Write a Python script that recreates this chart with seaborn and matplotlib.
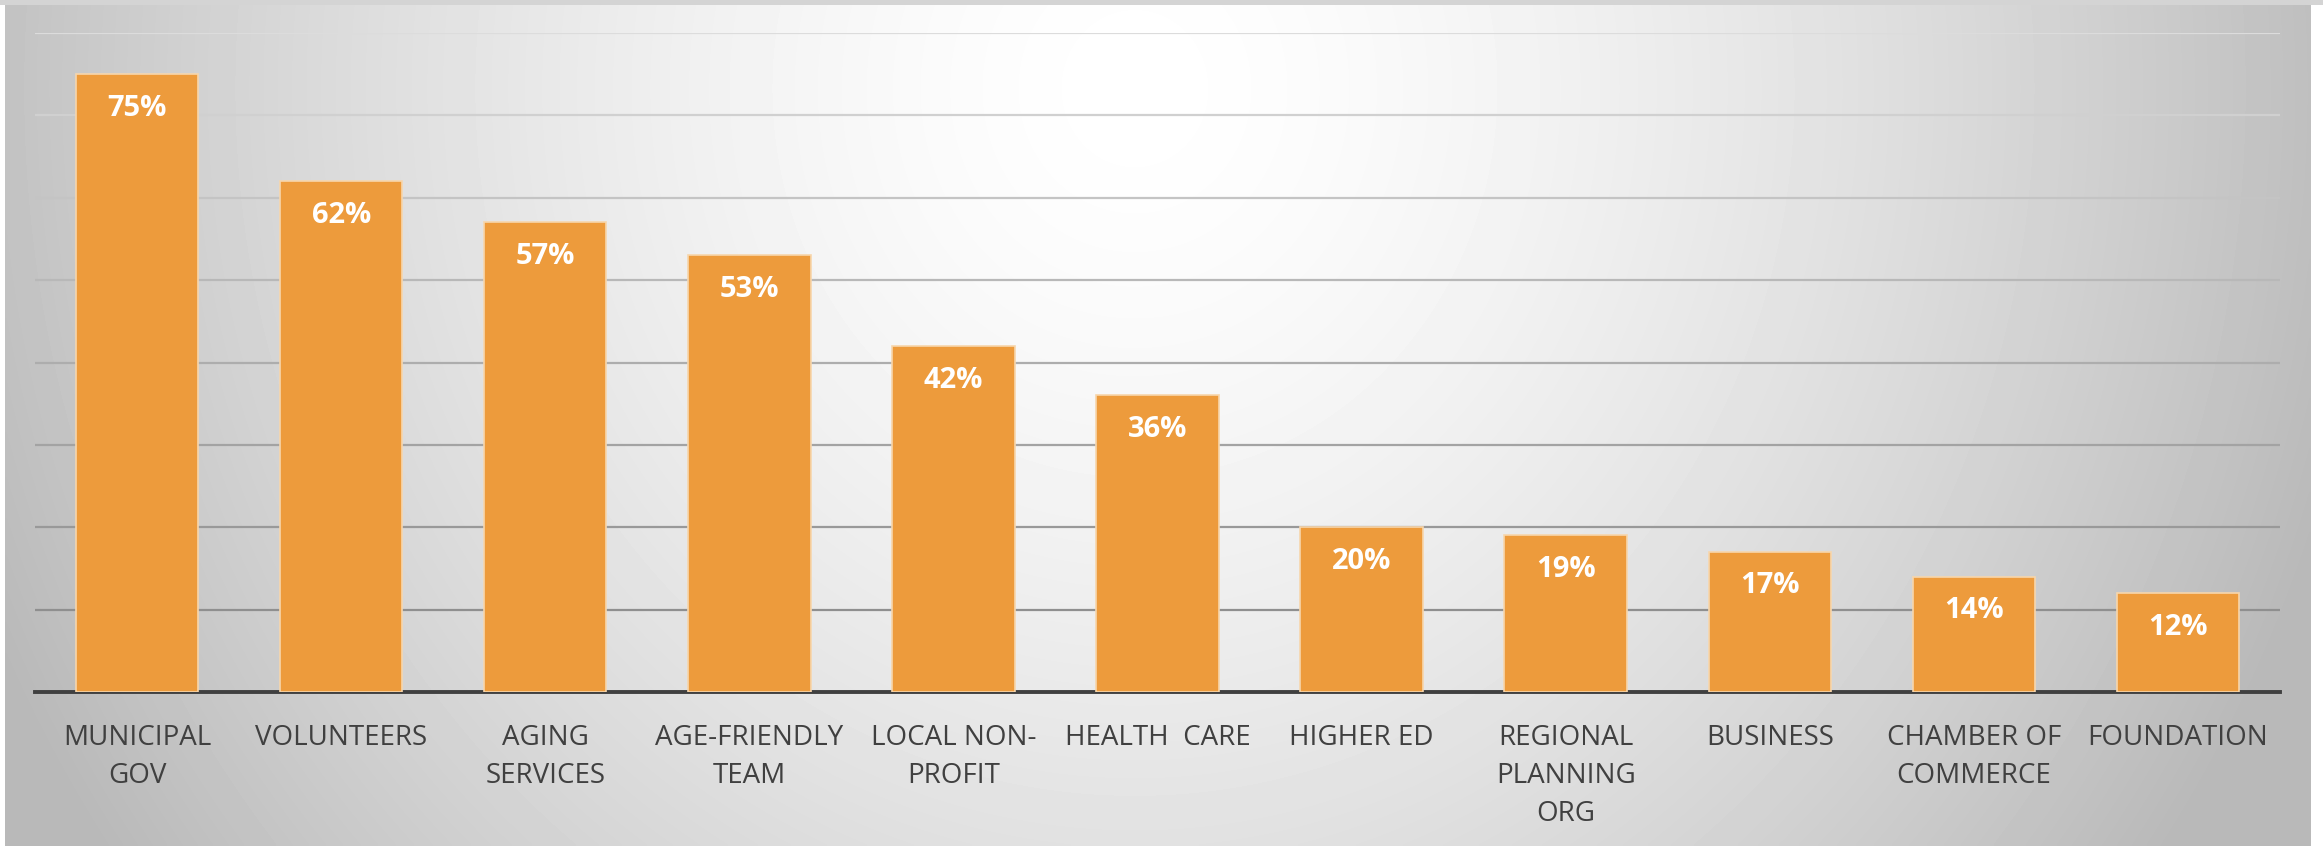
import numpy as np
import pandas as pd
import matplotlib
matplotlib.use("Agg")
import matplotlib.pyplot as plt
from matplotlib.patches import Rectangle
import seaborn as sns

# data
categories = ["MUNICIPAL\nGOV", "VOLUNTEERS", "AGING\nSERVICES", "AGE-FRIENDLY\nTEAM",
              "LOCAL NON-\nPROFIT", "HEALTH  CARE", "HIGHER ED", "REGIONAL\nPLANNING\nORG",
              "BUSINESS", "CHAMBER OF\nCOMMERCE", "FOUNDATION"]
shares = [0.75, 0.62, 0.57, 0.53, 0.42, 0.36, 0.20, 0.19, 0.17, 0.14, 0.12]

df = pd.DataFrame({"partner": categories, "share": shares})

sns.set_style("white")
plt.rcParams["font.family"] = ["Open Sans", "DejaVu Sans"]

W, H = 2323, 846
fig = plt.figure(figsize=(W / 100, H / 100), dpi=100)
fig.patch.set_facecolor("white")

# grey radial backdrop behind the chart
bg = fig.add_axes([5 / W, 0, (2311 - 5) / W, (846 - 4) / H])
gx, gy = np.meshgrid(np.linspace(0, 1, 600), np.linspace(0, 1, 240))
r = np.sqrt(((gx - 0.49) / 0.5) ** 2 + ((gy - 0.1) / 1.47) ** 2)
shade = np.clip(255 - 62 * r ** 1.5, 185, 255) / 255
bg.imshow(shade, cmap="gray", vmin=0, vmax=1, aspect="auto",
          extent=[0, 1, 1, 0], interpolation="bilinear")
bg.set_axis_off()
fig.patches.append(Rectangle((0, 1 - 5 / H), 1, 5 / H, transform=fig.transFigure,
                             facecolor="#d4d4d4", edgecolor="none", zorder=5))

ax = fig.add_axes([35 / W, 1 - 692 / H, (2280 - 35) / W, (692 - 33) / H])
ax.patch.set_alpha(0)

sns.barplot(data=df, x="partner", y="share", color="#ED9B3C", saturation=1,
            width=0.6, edgecolor="#F7D6AC", linewidth=1.2, ax=ax, zorder=3)

ax.set_ylim(0, 0.8)
ax.set_xlim(-0.5, len(categories) - 0.5)
ax.set_yticks(np.arange(0.1, 0.81, 0.1))
ax.set_yticklabels([])
ax.tick_params(axis="y", length=0)
ax.yaxis.grid(True, linewidth=1.6, zorder=0)
ax.set_axisbelow(True)
grid_cols = ["#8f8f8f", "#999999", "#a3a3a3", "#adadad", "#b8b8b8", "#c4c4c4", "#d0d0d0", "#dcdcdc"]
for gl, c in zip(ax.get_ygridlines(), grid_cols):
    gl.set_color(c)

for side in ["top", "right", "left"]:
    ax.spines[side].set_visible(False)
ax.spines["bottom"].set_color("#404040")
ax.spines["bottom"].set_linewidth(2.8)

ax.set_xlabel("")
ax.set_ylabel("")
ax.tick_params(axis="x", length=0, pad=23, labelsize=20, labelcolor="#404040")
for lbl in ax.get_xticklabels():
    lbl.set_linespacing(1.48)
    lbl.set_multialignment("center")

for i, v in enumerate(shares):
    ax.annotate(f"{v:.0%}", (i, v), xytext=(0, -24.5), textcoords="offset points",
                ha="center", va="center", color="white", fontsize=21,
                fontweight="bold", zorder=4)

fig.savefig("out.png", dpi=100)
